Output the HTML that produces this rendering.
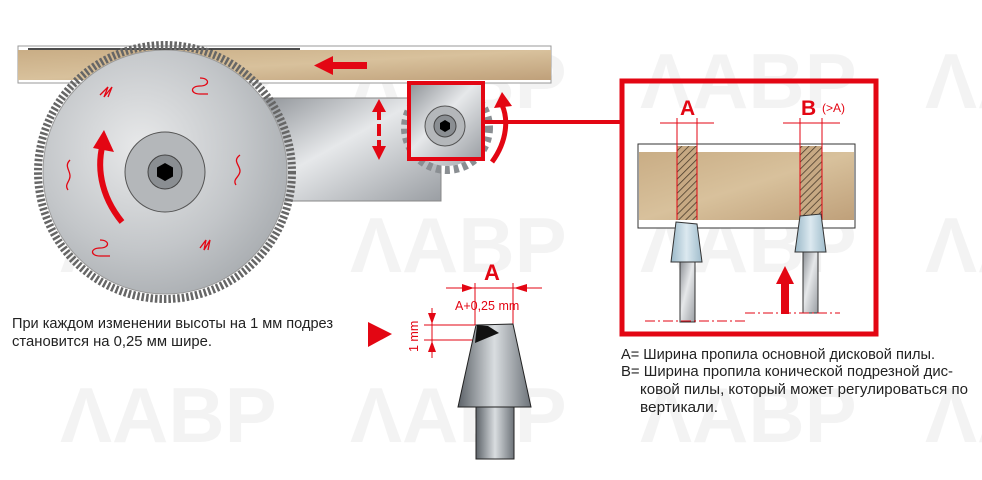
<!DOCTYPE html>
<html><head><meta charset="utf-8"><style>
body{margin:0;background:#fff;width:982px;height:480px;overflow:hidden}
svg{display:block}
.t{font-family:"Liberation Sans",sans-serif;font-size:15px;fill:#222}
.wm{font-family:"Liberation Sans",sans-serif;font-weight:bold;font-size:78px;fill:#000;opacity:.045}
.r{fill:#e30613}
</style></head><body>
<svg width="982" height="480" viewBox="0 0 982 480">
<defs>
<linearGradient id="wood" x1="0" y1="0" x2="1" y2="1">
<stop offset="0" stop-color="#c9ad85"/><stop offset=".5" stop-color="#d8c19c"/><stop offset="1" stop-color="#bfa07a"/></linearGradient>
<linearGradient id="steel" x1="0" y1="0" x2="1" y2="1">
<stop offset="0" stop-color="#8d9196"/><stop offset=".45" stop-color="#e6e8ea"/><stop offset="1" stop-color="#9a9ea3"/></linearGradient>
<radialGradient id="blade" cx=".4" cy=".4" r=".7">
<stop offset="0" stop-color="#e8e9ea"/><stop offset=".6" stop-color="#c3c6c9"/><stop offset="1" stop-color="#a5a9ad"/></radialGradient>
<linearGradient id="cone" x1="0" y1="0" x2="1" y2="0">
<stop offset="0" stop-color="#5c6268"/><stop offset=".5" stop-color="#d9dde0"/><stop offset="1" stop-color="#6d7379"/></linearGradient>
<linearGradient id="blue" x1="0" y1="0" x2="1" y2="0">
<stop offset="0" stop-color="#9ab8c8"/><stop offset=".5" stop-color="#dce9f0"/><stop offset="1" stop-color="#9fbccb"/></linearGradient>
<pattern id="hatch" width="5" height="5" patternUnits="userSpaceOnUse" patternTransform="rotate(45)">
<rect width="5" height="5" fill="#c7a983"/><line x1="0" y1="0" x2="0" y2="5" stroke="#4a3c2c" stroke-width="1.6"/></pattern>
</defs>

<!-- watermarks -->
<text class="wm" x="60" y="108">ΛABP</text>
<text class="wm" x="350" y="108">ΛABP</text>
<text class="wm" x="640" y="108">ΛABP</text>
<text class="wm" x="925" y="108">ΛABP</text>
<text class="wm" x="60" y="272">ΛABP</text>
<text class="wm" x="350" y="272">ΛABP</text>
<text class="wm" x="640" y="272">ΛABP</text>
<text class="wm" x="925" y="272">ΛABP</text>
<text class="wm" x="60" y="442">ΛABP</text>
<text class="wm" x="350" y="442">ΛABP</text>
<text class="wm" x="640" y="442">ΛABP</text>
<text class="wm" x="925" y="442">ΛABP</text>

<!-- board -->
<rect x="18" y="46" width="533" height="37" fill="#fff" stroke="#999" stroke-width="1"/>
<rect x="18" y="50" width="533" height="30" fill="url(#wood)"/>
<line x1="28" y1="49" x2="300" y2="49" stroke="#111" stroke-width="1.5"/>

<!-- plate -->
<rect x="255" y="98" width="186" height="103" fill="url(#steel)" stroke="#888"/>

<!-- saw blade -->
<circle cx="165" cy="172" r="127" fill="none" stroke="#666" stroke-width="8" stroke-dasharray="2.5 2"/>
<circle cx="165" cy="172" r="122" fill="url(#blade)" stroke="#999"/>
<circle cx="165" cy="172" r="40" fill="#b4b7ba" stroke="#555"/>
<circle cx="165" cy="172" r="17" fill="#8a8e92" stroke="#444"/>
<polygon points="165,163 173,167.5 173,176.5 165,181 157,176.5 157,167.5" fill="#000"/>
<!-- red slots -->
<g fill="none" stroke="#e30613" stroke-width="1.3">
<path d="M100 95 l8 -8 l-4 10 l8 -10 l-4 10"/>
<path d="M200 78 c10 0 10 8 0 8 c-10 0 -10 8 0 8 h8"/>
<path d="M240 155 c-8 6 0 10 0 16 c0 6 -8 8 -4 14"/>
<path d="M70 160 c-6 6 0 10 0 16 c0 6 -6 8 -2 14"/>
<path d="M100 240 c10 0 10 8 0 8 c-10 0 -10 8 0 8 h10"/>
<path d="M200 248 l6 -8 l-2 10 l6 -10 l-2 10"/>
</g>
<path d="M122 222 C100 195 96 165 104 140" stroke="#e30613" stroke-width="6" fill="none"/>
<polygon class="r" points="93,148 104,130 114,152"/>

<!-- small gear -->
<circle cx="447" cy="128" r="42" fill="none" stroke="#8a8e92" stroke-width="8" stroke-dasharray="5 4"/>
<circle cx="447" cy="128" r="38" fill="url(#steel)"/>
<rect x="409" y="83" width="74" height="76" fill="url(#steel)" stroke="#e30613" stroke-width="4"/>
<circle cx="445" cy="126" r="20" fill="#b4b7ba" stroke="#555"/>
<circle cx="445" cy="126" r="11" fill="#8a8e92" stroke="#444"/>
<polygon points="445,120 450,123 450,129 445,132 440,129 440,123" fill="#000"/>
<!-- vertical arrows -->
<line x1="379" y1="108" x2="379" y2="150" stroke="#e30613" stroke-width="4" stroke-dasharray="12 4"/>
<polygon class="r" points="372,112 379,99 386,112"/>
<polygon class="r" points="372,146 379,160 386,146"/>
<path d="M492 162 C508 140 508 118 502 105" stroke="#e30613" stroke-width="5" fill="none"/>
<polygon class="r" points="494,108 502,92 512,106"/>
<!-- board arrow -->
<rect x="330" y="62" width="37" height="7" class="r"/>
<polygon class="r" points="333,56 314,65.5 333,75"/>
<!-- connector -->
<line x1="483" y1="122" x2="622" y2="122" stroke="#e30613" stroke-width="4"/>

<!-- right frame -->
<rect x="622" y="81" width="254" height="253" fill="none" stroke="#e30613" stroke-width="5"/>
<rect x="638" y="144" width="217" height="84" fill="#fff" stroke="#333" stroke-width="1"/>
<rect x="639" y="152" width="215" height="68" fill="url(#wood)"/>
<rect x="677" y="146" width="20" height="74" fill="url(#hatch)"/>
<rect x="800" y="146" width="22" height="74" fill="url(#hatch)"/>
<g stroke="#e30613" stroke-width="1">
<line x1="677" y1="118" x2="677" y2="220"/><line x1="697" y1="118" x2="697" y2="220"/>
<line x1="800" y1="118" x2="800" y2="220"/><line x1="822" y1="118" x2="822" y2="220"/>
<line x1="660" y1="123" x2="714" y2="123"/><line x1="783" y1="123" x2="840" y2="123"/>
</g>
<text x="680" y="115" style="font:bold 21px 'Liberation Sans',sans-serif" fill="#e30613">A</text>
<text x="801" y="115" style="font:bold 21px 'Liberation Sans',sans-serif" fill="#e30613">B</text>
<text x="822" y="112" style="font:12px 'Liberation Sans',sans-serif" fill="#e30613">(&gt;A)</text>
<!-- tools -->
<polygon points="676,222 697,224 702,262 671,262" fill="url(#blue)" stroke="#333"/>
<rect x="680" y="262" width="15" height="60" fill="url(#steel)" stroke="#333"/>
<polygon points="800,216 821,214 826,252 795,252" fill="url(#blue)" stroke="#333"/>
<rect x="803" y="252" width="15" height="61" fill="url(#steel)" stroke="#333"/>
<rect x="781" y="282" width="8" height="32" class="r"/>
<polygon class="r" points="776,284 785,266 794,284"/>
<g stroke="#e30613" stroke-width="1" stroke-dasharray="10 3 2 3">
<line x1="645" y1="321" x2="747" y2="321"/><line x1="745" y1="313" x2="840" y2="313"/>
</g>

<!-- detail -->
<polygon class="r" points="368,322 392,334 368,347"/>
<g stroke="#e30613" stroke-width="1">
<line x1="475" y1="283" x2="475" y2="325"/><line x1="513" y1="283" x2="513" y2="325"/>
<line x1="446" y1="288" x2="542" y2="288"/>
<line x1="424" y1="325" x2="475" y2="325"/><line x1="424" y1="340" x2="475" y2="340"/>
<line x1="432" y1="308" x2="432" y2="358"/>
</g>
<polygon class="r" points="462,284 474,288 462,292"/><polygon class="r" points="527,284 514,288 527,292"/>
<polygon class="r" points="428,313 432,324 436,313"/><polygon class="r" points="428,352 432,341 436,352"/>
<text x="484" y="280" style="font:bold 22px 'Liberation Sans',sans-serif" fill="#e30613">A</text>
<text x="455" y="310" style="font:12.5px 'Liberation Sans',sans-serif" fill="#e30613">A+0,25 mm</text>
<text transform="translate(418,352) rotate(-90)" style="font:12.5px 'Liberation Sans',sans-serif" fill="#e30613">1 mm</text>
<polygon points="476,325 513,324 531,407 458,407" fill="url(#cone)" stroke="#222"/>
<polygon points="477,325 488,326 499,333 475,343" fill="#111"/>
<rect x="476" y="407" width="38" height="52" fill="url(#cone)" stroke="#222"/>

<!-- texts -->
<text class="t" x="12" y="328" textLength="321" lengthAdjust="spacingAndGlyphs">При каждом изменении высоты на 1 мм подрез</text>
<text class="t" x="12" y="346" textLength="200" lengthAdjust="spacingAndGlyphs">становится на 0,25 мм шире.</text>
<text class="t" x="621" y="359" textLength="314" lengthAdjust="spacingAndGlyphs">A= Ширина пропила основной дисковой пилы.</text>
<text class="t" x="621" y="376" textLength="332" lengthAdjust="spacingAndGlyphs">B= Ширина пропила конической подрезной дис-</text>
<text class="t" x="640" y="394" textLength="328" lengthAdjust="spacingAndGlyphs">ковой пилы,  который может регулироваться по</text>
<text class="t" x="640" y="412" textLength="78" lengthAdjust="spacingAndGlyphs">вертикали.</text>
</svg>
</body></html>
